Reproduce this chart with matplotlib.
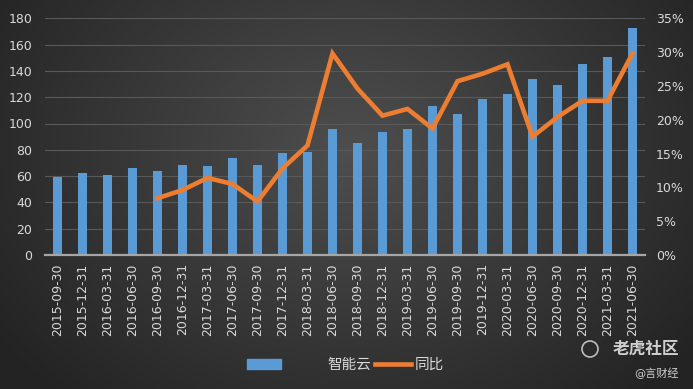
import numpy as np
import matplotlib
matplotlib.use("Agg")
import matplotlib.pyplot as plt
from matplotlib.lines import Line2D
from matplotlib.patches import Rectangle, Ellipse
from matplotlib.ticker import FuncFormatter, MultipleLocator

plt.rcParams['font.family'] = ['DejaVu Sans', 'Noto Sans CJK SC']

# ==============================
# DATOS
# ==============================

fechas = [
    "2015-09-30", "2015-12-31", "2016-03-31", "2016-06-30",
    "2016-09-30", "2016-12-31", "2017-03-31", "2017-06-30",
    "2017-09-30", "2017-12-31", "2018-03-31", "2018-06-30",
    "2018-09-30", "2018-12-31", "2019-03-31", "2019-06-30",
    "2019-09-30", "2019-12-31", "2020-03-31", "2020-06-30",
    "2020-09-30", "2020-12-31", "2021-03-31", "2021-06-30",
]

zhineng_yun = [
    59, 62.5, 61, 66, 63.5, 68.5, 67.5, 73.5,
    68.5, 77.5, 78.5, 96, 85, 93.5, 96, 113,
    107, 118.5, 122.5, 133.5, 129, 145, 150.5, 173,
]

# crecimiento interanual (%), sin dato los primeros cuatro trimestres
tongbi = [
    np.nan, np.nan, np.nan, np.nan,
    8.4, 9.6, 11.4, 10.5, 7.9, 12.8, 16.2, 29.8,
    24.6, 20.6, 21.6, 18.7, 25.7, 26.8, 28.2, 17.5,
    20.4, 22.8, 22.8, 29.8,
]

# ==============================
# ESTILO
# ==============================

BAR_COLOR = "#5b9bd5"
LINE_COLOR = "#ed7d31"
TEXT_COLOR = "#d9d9d9"
GRID_COLOR = "#595959"

W, H = 693, 389
fig = plt.figure(figsize=(W / 100, H / 100), dpi=100)

# fondo con degradado radial
bg = fig.add_axes([0, 0, 1, 1], zorder=-10)
yy, xx = np.mgrid[0:H, 0:W]
r = np.sqrt(((xx - 350) / 420.0) ** 2 + ((yy - 150) / 330.0) ** 2)
r = np.clip(r, 0, 1)
light = np.array([0x4e, 0x4e, 0x4e]) / 255
dark = np.array([0x24, 0x24, 0x24]) / 255
img = light[None, None, :] * (1 - r[..., None]) + dark[None, None, :] * r[..., None]
bg.imshow(img, aspect="auto", extent=[0, 1, 0, 1], origin="upper")
bg.set_axis_off()

# ==============================
# GRAFICO
# ==============================

ax = fig.add_axes([45 / W, 1 - 255 / H, 600 / W, (255 - 18.3) / H])
ax.set_facecolor("none")
x = np.arange(len(fechas))

ax.bar(x, zhineng_yun, width=0.33, color=BAR_COLOR, zorder=2)
ax.set_xlim(-0.5, len(fechas) - 0.5)
ax.set_ylim(0, 180)
ax.yaxis.set_major_locator(MultipleLocator(20))
ax.grid(axis="y", color=GRID_COLOR, linewidth=0.8, zorder=0)
ax.set_axisbelow(True)

ax.set_xticks(x)
ax.set_xticklabels(fechas, rotation=90)
ax.tick_params(axis="x", length=0, pad=6, colors=TEXT_COLOR, labelsize=9)
ax.tick_params(axis="y", length=0, pad=9, colors=TEXT_COLOR, labelsize=9)
for side in ["top", "right", "left"]:
    ax.spines[side].set_visible(False)
ax.spines["bottom"].set_color("#a6a6a6")
ax.spines["bottom"].set_linewidth(1.6)

ax2 = ax.twinx()
ax2.plot(x, np.array(tongbi) / 100, color=LINE_COLOR, linewidth=3.3,
         solid_joinstyle="miter", zorder=3)
ax2.set_ylim(0, 0.35)
ax2.yaxis.set_major_locator(MultipleLocator(0.05))
ax2.yaxis.set_major_formatter(FuncFormatter(lambda v, p: f"{v * 100:.0f}%"))
ax2.tick_params(axis="y", length=0, pad=8, colors=TEXT_COLOR, labelsize=9)
for side in ["top", "right", "left", "bottom"]:
    ax2.spines[side].set_visible(False)

# ==============================
# LEYENDA (estilo Excel)
# ==============================

fig.patches.append(Rectangle((247 / W, 1 - 369 / H), 34 / W, 10 / H,
                             transform=fig.transFigure, color=BAR_COLOR))
fig.text(327 / W, 1 - 364 / H, "智能云", color=TEXT_COLOR, fontsize=10.5,
         va="center", ha="left")
fig.lines.append(Line2D([375 / W, 411 / W], [1 - 364 / H, 1 - 364 / H],
                        transform=fig.transFigure, color=LINE_COLOR,
                        linewidth=3.3))
fig.text(415 / W, 1 - 364 / H, "同比", color=TEXT_COLOR, fontsize=10.5,
         va="center", ha="left")

# marca de agua
fig.patches.append(Ellipse((590 / W, 1 - 349 / H), 16 / W, 16 / H,
                           transform=fig.transFigure, fill=False,
                           edgecolor="#bdbdbd", linewidth=1.2))
fig.text(679 / W, 1 - 349 / H, "老虎社区", color="#cfcfcf", fontsize=12,
         fontweight="bold", va="center", ha="right")
fig.text(679 / W, 1 - 373 / H, "@言财经", color="#d0d0d0", fontsize=8,
         va="center", ha="right")

fig.savefig("out.png", dpi=100)
